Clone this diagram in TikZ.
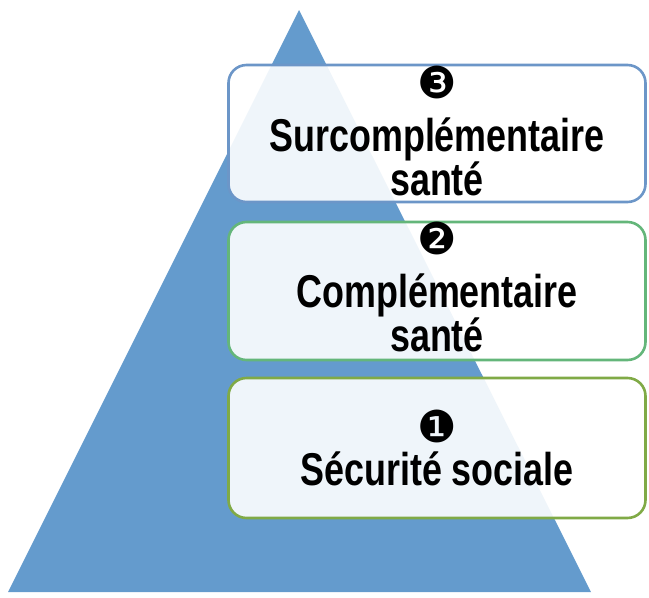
\documentclass[tikz,border=0pt]{standalone}
\usepackage{fontspec}
\setmainfont{Liberation Sans}
\newfontfamily\tierfont[FakeStretch=0.78]{Liberation Sans}
\newfontfamily\digitfont{DejaVu Sans}
\usetikzlibrary{positioning}
\definecolor{pyrblue}{RGB}{100,155,205}
\definecolor{tierblue}{RGB}{108,150,200}
\definecolor{tiergreen}{RGB}{100,182,122}
\definecolor{tierolive}{RGB}{128,170,70}
\newcommand{\tiernum}[1]{{\digitfont #1}}

\begin{document}
\begin{tikzpicture}[x=1pt, y=-1pt,
  tier/.style={draw, line width=2.6pt, rounded corners=18pt, fill=white,
    fill opacity=0.9, minimum width=417pt, inner sep=0pt},
  num/.style={font=\fontsize{44}{44}\selectfont, inner sep=0pt},
  tierlabel/.style={font=\tierfont\bfseries\fontsize{46}{46}\selectfont,
    anchor=base, inner sep=0pt}]
  \useasboundingbox (0,0) rectangle (649,598);
  % pyramid
  \coordinate (apex) at (299,10);
  \coordinate (baseL) at (8,592);
  \coordinate (baseR) at (591,592);
  \fill[pyrblue] (apex) -- (baseR) -- (baseL) -- cycle;
  % tiers
  \node[tier, draw=tierblue, minimum height=137pt] (box3) at (437,133.5) {};
  \node[tier, draw=tiergreen, minimum height=138pt] (box2) at (437,291) {};
  \node[tier, draw=tierolive, minimum height=140pt] (box1) at (437,448) {};
  % numbers and texts
  \node[num] (n3) at (437,82) {\tiernum{❸}};
  \node[tierlabel] (t3a) at (437,151) {Surcomplémentaire};
  \node[tierlabel] (t3b) at (437,195) {santé};
  \node[num] (n2) at (437,238) {\tiernum{❷}};
  \node[tierlabel] (t2a) at (437,307) {Complémentaire};
  \node[tierlabel] (t2b) at (437,351) {santé};
  \node[num] (n1) at (437,426) {\tiernum{❶}};
  \node[tierlabel] (t1) at (437,485) {Sécurité sociale};
\end{tikzpicture}
\end{document}
